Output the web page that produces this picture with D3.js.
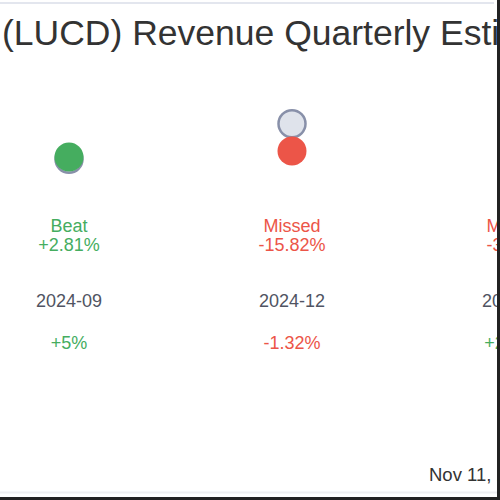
<!DOCTYPE html>
<html lang="en">
<head>
<meta charset="utf-8" />
<title>LUCD Revenue Quarterly Estimates</title>
<style>
   body { margin:0; padding:0; background:white; }
   svg { display:block; }
   text { font-family:"Liberation Sans", Arial, sans-serif; }
</style>
<script src="https://d3js.org/d3.v7.min.js"></script>
</head>
<body>
<svg id="main" width="500" height="500"></svg>
<script>
// quarterly revenue, $M
var quarters  = ['2024-09','2024-12','2025-03'];
var estimates = [1.18, 1.485, 1.25];
var actuals   = [1.2, 1.25, 0.83];
var surprise  = ['+2.81%','-15.82%','-33.6%'];
var results   = ['Beat','Missed','Missed'];
var changes   = ['+5%','-1.32%','+21.5%'];
var titleTxt  = '(LUCD) Revenue Quarterly Estimates';
var dateTxt   = 'Nov 11, 2025';

var green = '#45ad5f', red = '#ec5548', grey = '#505462';

var svg = d3.select('#main');
var g = svg.append('g');

var x = d3.scaleLinear().domain([0, quarters.length-1]).range([69, 515]);
var y = d3.scaleLinear().domain([0.8, 1.5]).range([203.5, 122]);

// frame lines
svg.append('line').attr('x1',0).attr('x2',494).attr('y1',3).attr('y2',3)
   .style('stroke','#e3e6ee').style('stroke-width',2);
svg.append('line').attr('x1',0).attr('x2',497).attr('y1',492.5).attr('y2',492.5)
   .style('stroke','#eeeff2').style('stroke-width',2);

g.append('text').attr('x',2).attr('y',45)
   .style('font-size','35.5px').style('fill','#333')
   .text(titleTxt);

var cols = g.selectAll('g.col')
   .data(quarters.map(function(q,i){ return {q:q,i:i,est:estimates[i],act:actuals[i]}; }))
   .enter().append('g').attr('class','col')
   .attr('transform', function(d){ return 'translate(' + x(d.i) + ',0)'; });

function fcol(d){ return d.act >= d.est ? green : red; }

cols.append('circle')
   .attr('cy', function(d){ return y(d.est); }).attr('r',13.5)
   .style('fill','#dfe3eb').style('stroke','#8890a9').style('stroke-width',2.5);
cols.append('circle')
   .attr('cy', function(d){ return y(d.act); }).attr('r',14.5)
   .style('fill', fcol);

cols.append('text').attr('y',232).style('text-anchor','middle').style('font-size','18px')
   .style('fill', fcol).text(function(d){ return results[d.i]; });
cols.append('text').attr('y',251).style('text-anchor','middle').style('font-size','18px')
   .style('fill', fcol).text(function(d){ return surprise[d.i]; });
cols.append('text').attr('y',307).style('text-anchor','middle').style('font-size','18px')
   .style('fill', grey).text(function(d){ return d.q; });
cols.append('text').attr('y',349).style('text-anchor','middle').style('font-size','18px')
   .style('fill', function(d){ return changes[d.i][0]==='-' ? red : green; })
   .text(function(d){ return changes[d.i]; });

g.append('text').attr('x',429).attr('y',481)
   .style('font-size','18.5px').style('fill','#333').text(dateTxt);

// dark border, right and bottom
svg.append('rect').attr('x',497).attr('y',0).attr('width',3).attr('height',500).style('fill','#222');
svg.append('rect').attr('x',0).attr('y',497).attr('width',500).attr('height',3).style('fill','#222');
</script>
</body>
</html>
